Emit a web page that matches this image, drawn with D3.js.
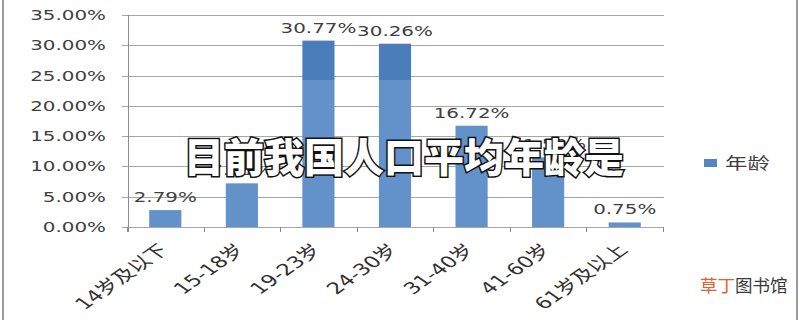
<!DOCTYPE html>
<html>
<head>
<meta charset="utf-8">
<script src="https://cdn.jsdelivr.net/npm/d3@7"></script>
<style>
  body { margin: 0; background: #fff; }
  svg { display: block; }
</style>
</head>
<body>
<svg id="chart" width="800" height="320"></svg>
<script>
const categories = ['14岁及以下', '15-18岁', '19-23岁', '24-30岁', '31-40岁', '41-60岁', '61岁及以上']
const values = [2.79, 7.21, 30.77, 30.26, 16.72, 11.50, 0.75]
const yTicks = [0, 5, 10, 15, 20, 25, 30, 35]
const seriesName = '年龄'
const title = '目前我国人口平均年龄是'

const svg = d3.select('#chart')
const SX = 1.42 // the picture is stretched sideways
const textFont = '"DejaVu Sans", "Noto Sans CJK SC", sans-serif'

const x = d3.scaleBand().domain(categories).range([127, 663]).paddingInner(0.58).paddingOuter(0.29)
const y = d3.scaleLinear().domain([0, 35]).range([227, 15])

svg.append('rect').attr('width', 800).attr('height', 320).attr('fill', '#fff')

// frame
svg.append('line').attr('x1', 3).attr('x2', 3).attr('y1', 0).attr('y2', 320).attr('stroke', '#9a9a9a').attr('stroke-width', 2)
svg.append('line').attr('x1', 797).attr('x2', 797).attr('y1', 0).attr('y2', 320).attr('stroke', '#9a9a9a').attr('stroke-width', 2)

const defs = svg.append('defs')
const grad = defs.append('linearGradient').attr('id', 'barGrad')
    .attr('gradientUnits', 'userSpaceOnUse')
    .attr('x1', 0).attr('y1', 0).attr('x2', 0).attr('y2', 320)
grad.append('stop').attr('offset', 80 / 320).attr('stop-color', '#4b7dbb')
grad.append('stop').attr('offset', 80 / 320).attr('stop-color', '#6392cb')

// gridlines
svg.append('g').selectAll('line').data(yTicks).join('line')
    .attr('x1', 122).attr('x2', 664)
    .attr('y1', d => Math.round(y(d)) + 0.5).attr('y2', d => Math.round(y(d)) + 0.5)
    .attr('stroke', '#a6a6a6')

// y axis line
svg.append('line').attr('x1', 128.5).attr('x2', 128.5).attr('y1', y(35)).attr('y2', y(0) + 5)
    .attr('stroke', '#8c8c8c')

// x axis ticks at band edges
const edges = categories.map(c => x(c) - x.step() * x.paddingInner() / 2)
edges.push(663)
svg.append('g').selectAll('line').data(edges).join('line')
    .attr('x1', d => Math.round(d) + 0.5).attr('x2', d => Math.round(d) + 0.5)
    .attr('y1', y(0)).attr('y2', y(0) + 5)
    .attr('stroke', '#8c8c8c')

// y tick labels
svg.append('g').selectAll('text').data(yTicks).join('text')
    .attr('transform', d => `translate(106,${y(d) + 5}) scale(${SX},1)`)
    .attr('text-anchor', 'end')
    .attr('font-family', textFont)
    .attr('font-size', 14)
    .attr('fill', '#404040')
    .text(d => d.toFixed(2) + '%')

// bars
svg.append('g').selectAll('rect').data(values).join('rect')
    .attr('x', (d, i) => x(categories[i]))
    .attr('width', x.bandwidth())
    .attr('y', d => y(d))
    .attr('height', d => y(0) - y(d))
    .attr('fill', 'url(#barGrad)')

// value labels
svg.append('g').selectAll('text').data(values).join('text')
    .attr('transform', (d, i) => `translate(${x(categories[i]) + x.bandwidth() / 2},${y(d) - 8}) scale(${SX},1)`)
    .attr('text-anchor', 'middle')
    .attr('font-family', textFont)
    .attr('font-size', 14)
    .attr('fill', '#404040')
    .text(d => d.toFixed(2) + '%')

// category labels, rotated then stretched
svg.append('g').selectAll('text').data(categories).join('text')
    .attr('transform', d => `translate(${x(d) + x.bandwidth() / 2 + 4},${y(0) + 24}) scale(${SX},1) rotate(-45)`)
    .attr('text-anchor', 'end')
    .attr('font-family', textFont)
    .attr('font-size', 16)
    .attr('fill', '#303030')
    .text(d => d)

// legend
svg.append('rect').attr('x', 704).attr('y', 159).attr('width', 13).attr('height', 8).attr('fill', '#5485c3')
svg.append('text')
    .attr('transform', `translate(725,169) scale(1.4,1)`)
    .attr('font-family', '"Noto Sans CJK SC", sans-serif')
    .attr('font-size', 16)
    .attr('fill', '#404040')
    .text(seriesName)

// watermark
const wm = svg.append('text')
    .attr('x', 700).attr('y', 292)
    .attr('font-family', '"Noto Sans CJK SC", sans-serif')
    .attr('font-size', 17.5)
wm.append('tspan').attr('fill', '#e2602c').text('草丁')
wm.append('tspan').attr('fill', '#3a3a3a').text('图书馆')

// overlaid title
svg.append('text')
    .attr('x', 404).attr('y', 172)
    .attr('text-anchor', 'middle')
    .attr('font-family', '"Noto Sans CJK SC", sans-serif')
    .attr('font-weight', 900)
    .attr('font-size', 40)
    .attr('fill', '#fff')
    .attr('stroke', '#111')
    .attr('stroke-width', 3)
    .attr('paint-order', 'stroke')
    .text(title)
</script>
</body>
</html>
